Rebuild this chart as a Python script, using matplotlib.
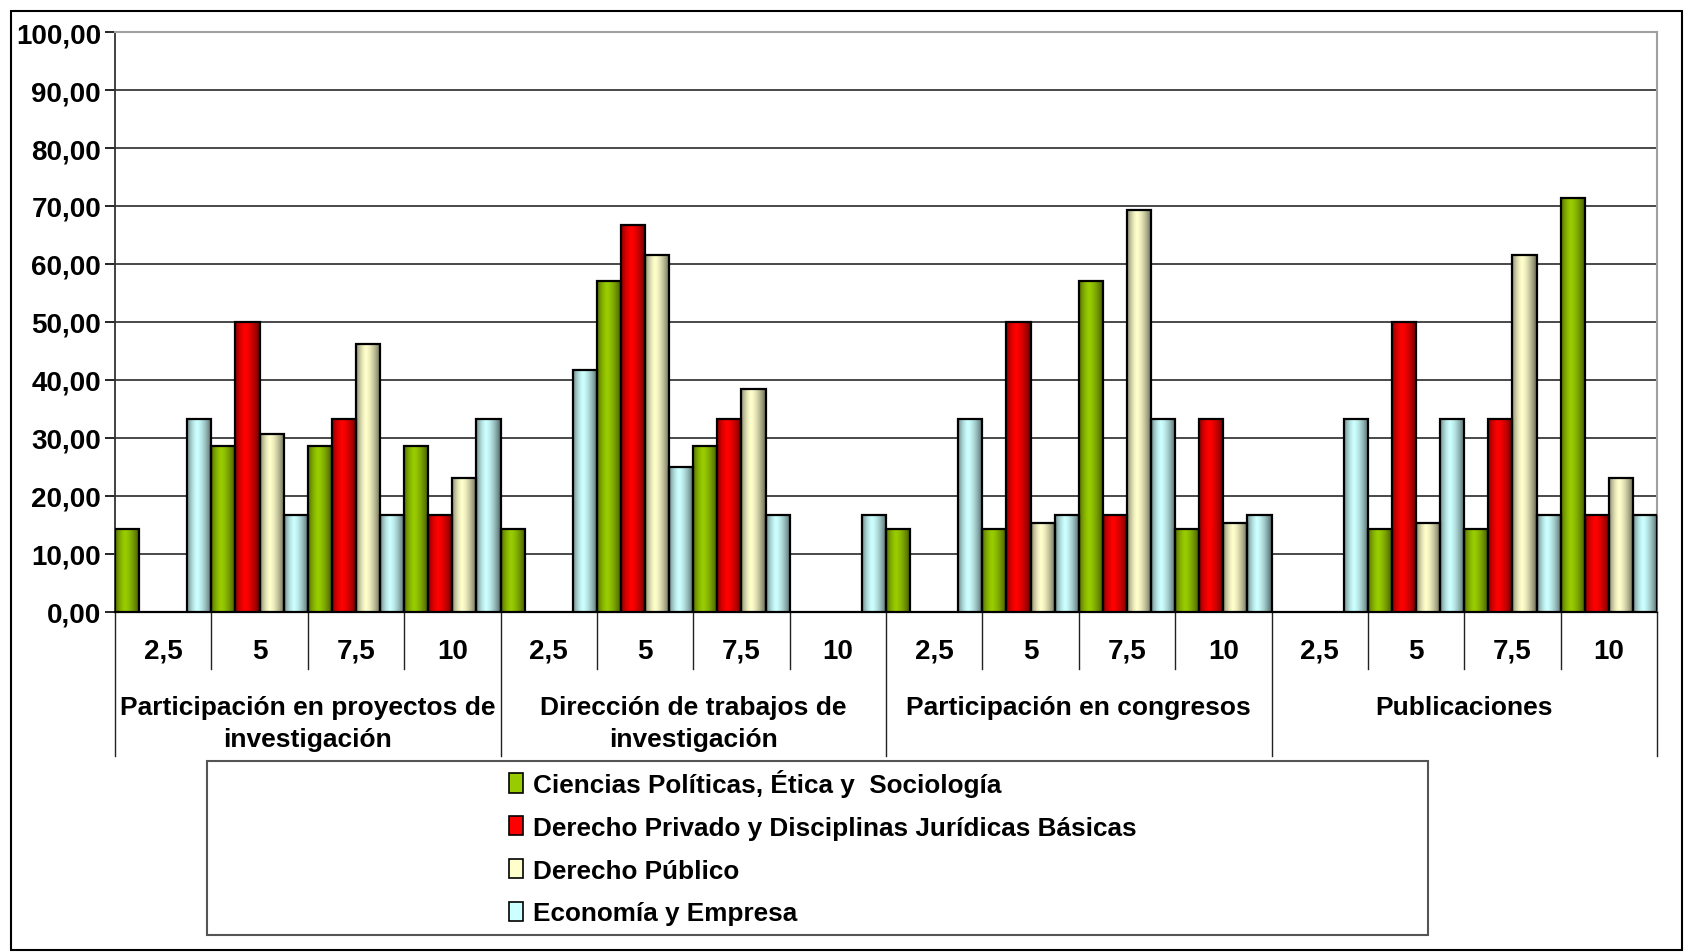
import numpy as np
import matplotlib
matplotlib.use("Agg")
import matplotlib.pyplot as plt
from matplotlib.patches import Rectangle, Patch
from matplotlib.transforms import blended_transform_factory

plt.rcParams["font.family"] = ["Liberation Sans", "DejaVu Sans"]
plt.rcParams["font.weight"] = "bold"

# ---------------------------------------------------------------
# data
# ---------------------------------------------------------------
groups = ["Participación en proyectos de\ninvestigación",
          "Dirección de trabajos de\ninvestigación",
          "Participación en congresos",
          "Publicaciones"]
scores = ["2,5", "5", "7,5", "10"]
series = ["Ciencias Políticas, Ética y  Sociología",
          "Derecho Privado y Disciplinas Jurídicas Básicas",
          "Derecho Público",
          "Economía y Empresa"]

# one value per (group, score), 16 in a row
ciencias = [14.29, 28.57, 28.57, 28.57,
            14.29, 57.14, 28.57, 0.00,
            14.29, 14.29, 57.14, 14.29,
            0.00, 14.29, 14.29, 71.43]
privado = [0.00, 50.00, 33.33, 16.67,
           0.00, 66.67, 33.33, 0.00,
           0.00, 50.00, 16.67, 33.33,
           0.00, 50.00, 33.33, 16.67]
publico = [0.00, 30.77, 46.15, 23.08,
           0.00, 61.54, 38.46, 0.00,
           0.00, 15.38, 69.23, 15.38,
           0.00, 15.38, 61.54, 23.08]
economia = [33.33, 16.67, 16.67, 33.33,
            41.67, 25.00, 16.67, 16.67,
            33.33, 16.67, 33.33, 16.67,
            33.33, 33.33, 16.67, 16.67]

colors = ["#99CC00", "#FF0000", "#FFFFCC", "#CCFFFF"]
yticks = np.arange(0, 101, 10)

W, H = 1684, 953
fig = plt.figure(figsize=(W / 100, H / 100), dpi=100)
L, R, T, B = 115, 1657, 33, 613
ax = fig.add_axes([L / W, 1 - B / H, (R - L) / W, (B - T) / H])

n_cat = len(groups) * len(scores)
x = np.arange(n_cat)
bw = 0.25


def shade_profile(n=64):
    t = np.linspace(0, 1, n)
    s = np.where(t < 0.4,
                 1 - 0.45 * ((0.4 - t) / 0.4) ** 1.5,
                 1 - 0.6 * ((t - 0.4) / 0.6) ** 1.5)
    return s


prof = shade_profile()
for j, vals in enumerate([ciencias, privado, publico, economia]):
    base = np.array(matplotlib.colors.to_rgb(colors[j]))
    grad = (prof[:, None] * base[None, :])[None, :, :]
    bars = ax.bar(x + (j + 0.5) * bw, vals, width=bw, align="center",
                  facecolor="none", edgecolor="black", linewidth=1.6, zorder=4)
    for p in bars:
        if p.get_height() <= 0:
            p.set_visible(False)
            continue
        x0, w, h = p.get_x(), p.get_width(), p.get_height()
        ax.imshow(grad, extent=(x0, x0 + w, 0, h), aspect="auto",
                  interpolation="bilinear", zorder=3)

ax.set_xlim(0, n_cat)
ax.set_ylim(0, 100)
ax.set_yticks(yticks)
ax.set_yticklabels([f"{v:.2f}".replace(".", ",") for v in yticks],
                   fontsize=20, fontweight="bold")
ax.tick_params(axis="y", length=7, width=1.2, pad=3)
ax.set_xticks([])
ax.yaxis.grid(True, color="#3a3a3a", linewidth=1.3, zorder=1)
ax.set_axisbelow(True)
for s in ["top", "right"]:
    ax.spines[s].set_color("#a0a0a0")
    ax.spines[s].set_linewidth(1.5)
ax.spines["left"].set_color("#333333")
ax.spines["left"].set_linewidth(1.3)
ax.spines["bottom"].set_color("black")
ax.spines["bottom"].set_linewidth(1.6)

# category table below the axis
tr = blended_transform_factory(ax.transData, ax.transAxes)
y_minor = (B - 670) / (B - T)
y_major = (B - 757) / (B - T)
for i in range(n_cat + 1):
    yb = y_major if i % len(scores) == 0 else y_minor
    ax.plot([i, i], [0, yb], color="#222222", lw=1.0, transform=tr,
            clip_on=False)
for i in range(n_cat):
    ax.text(i + 0.5, (B - 652) / (B - T), scores[i % len(scores)],
            transform=tr, ha="center", va="center", fontsize=20,
            fontweight="bold")
for g, name in enumerate(groups):
    ax.text(g * len(scores) + len(scores) / 2, (B - 696) / (B - T), name,
            transform=tr, ha="center", va="top", fontsize=19,
            fontweight="bold", linespacing=1.42)

# legend box
fig.patches.append(Rectangle((207 / W, 1 - 936 / H), (1428 - 207) / W,
                             (936 - 762) / H, transform=fig.transFigure,
                             facecolor="none", edgecolor="#555555", lw=1.5))
handles = [Patch(facecolor=c, edgecolor="black", linewidth=1.2) for c in colors]
fig.legend(handles, series, loc="upper left",
           bbox_to_anchor=(496 / W, 1 - 757 / H), frameon=False,
           handlelength=0.55, handleheight=0.75,
           handletextpad=0.35, labelspacing=0.72, borderpad=0,
           prop={"weight": "bold", "size": 18.8})

# outer frame
fig.patches.append(Rectangle((11 / W, 1 - 951 / H), (1682 - 11) / W,
                             (951 - 12) / H, transform=fig.transFigure,
                             facecolor="none", edgecolor="black", lw=1.5))

plt.savefig("out.png", dpi=100)
plt.close()
